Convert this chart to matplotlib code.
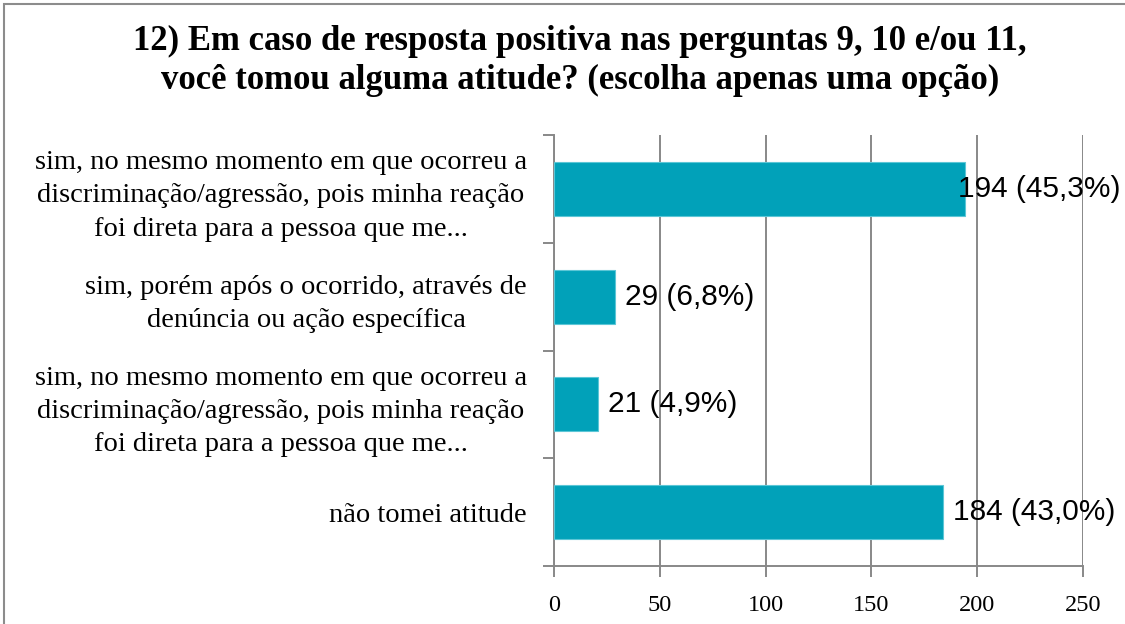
import matplotlib
matplotlib.use('Agg')
import matplotlib.pyplot as plt
from matplotlib.patches import Rectangle

# dados do gráfico (de cima para baixo)
categorias = [
    'sim, no mesmo momento em que ocorreu a\ndiscriminação/agressão, pois minha reação\nfoi direta para a pessoa que me...',
    'sim, porém após o ocorrido, através de\ndenúncia ou ação específica',
    'sim, no mesmo momento em que ocorreu a\ndiscriminação/agressão, pois minha reação\nfoi direta para a pessoa que me...',
    'não tomei atitude',
]
valores = [194, 29, 21, 184]
percentuais = ['45,3%', '6,8%', '4,9%', '43,0%']
ticks_x = [0, 50, 100, 150, 200, 250]
titulo = '12) Em caso de resposta positiva nas perguntas 9, 10 e/ou 11,\nvocê tomou alguma atitude? (escolha apenas uma opção)'

serif = 'Liberation Serif'
sans = 'Liberation Sans'
cor_barra = '#01A1B9'
cor_grade = '#888888'

fig = plt.figure(figsize=(11.25, 6.24), dpi=100)
ax = fig.add_axes([554/1125, 1-566/624, (1083-554)/1125, (566-135)/624])

# moldura da área do gráfico
fig.patches.append(Rectangle((4/1125, -0.05), 1.2, 1-4/624+0.05, transform=fig.transFigure,
                             fill=False, edgecolor='#8c8c8c', linewidth=1.5))

pos = list(range(len(valores)))
ax.barh(pos, valores, height=0.5, color=cor_barra, edgecolor='#5cc6d6', linewidth=0.8, zorder=3)

ax.set_xlim(0, 250)
ax.set_ylim(len(valores) - 0.5, -0.5)
ax.set_xticks(ticks_x)
ax.set_xticklabels([str(t) for t in ticks_x], fontfamily=serif, fontsize=17.5)
ax.grid(axis='x', color=cor_grade, linewidth=1.4, zorder=0)

ax.set_yticks(pos)
ax.set_yticklabels(categorias, fontfamily=serif, fontsize=20.5, ha='right',
                   multialignment='center', linespacing=1.43)
ax.set_yticks([p - 0.5 for p in pos] + [len(valores) - 0.5], minor=True)
lim_dir = 527
ax.tick_params(axis='y', which='major', length=0, pad=(554 - lim_dir) * 72 / 100)
ax.tick_params(axis='y', which='minor', length=8, width=1.4, color=cor_grade, direction='out')
ax.tick_params(axis='x', length=8, width=1.4, color=cor_grade, direction='out', pad=13)

for s in ['top', 'right']:
    ax.spines[s].set_visible(False)
for s in ['left', 'bottom']:
    ax.spines[s].set_color(cor_grade)
    ax.spines[s].set_linewidth(1.4)

fig.canvas.draw()
renderer = fig.canvas.get_renderer()

# rótulos de dados
for p, v, pc in zip(pos, valores, percentuais):
    t = ax.annotate(f'{v} ({pc})', xy=(v, p), xytext=(10, 0), textcoords='offset pixels',
                    va='center', ha='left', fontfamily=sans, fontsize=21.5, zorder=4)
    fig.canvas.draw()
    bb = t.get_window_extent(renderer)
    if bb.x1 > 1120:
        t.set_position((10 - (bb.x1 - 1120), 0))

fig.text(580/1125, 1-61/624, titulo, ha='center', va='center', fontfamily=serif,
         fontweight='bold', fontsize=25, linespacing=1.25)

fig.savefig('out.png', dpi=100)
